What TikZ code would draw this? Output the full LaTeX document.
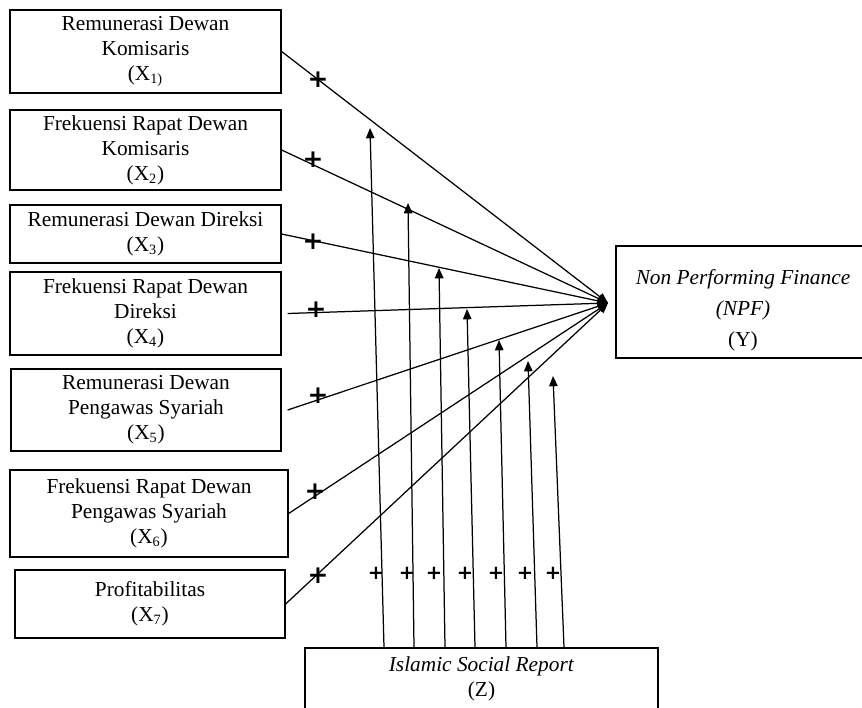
\documentclass[tikz,border=0pt]{standalone}
\usepackage{fontspec}
\setmainfont{Liberation Serif}
\newfontfamily\signfont{DejaVu Sans}
\usetikzlibrary{arrows.meta,positioning,calc}
\newdimen\pxu \pxu=0.5625pt
\tikzset{
  font=\fontsize{12}{14}\selectfont,
  var/.style  ={draw, line width=0.7pt, align=center, inner sep=0pt},
  arr/.style  ={-{Triangle[length=5.8pt,width=4.8pt]}, line width=0.7pt},
  sign/.style ={font=\signfont\fontsize{14}{14}\selectfont\bfseries, inner sep=0pt},
  msign/.style={font=\signfont\fontsize{11}{11}\selectfont\bfseries, inner sep=0pt},
}

\begin{document}
\begin{tikzpicture}[x=0.5625pt, y=-0.5625pt]
  \useasboundingbox (0,0) rectangle (862,707);
  \clip (0,0) rectangle (862,707);

  % independent variables (left column)
  \node[var, minimum width=271*\pxu, minimum height=83*\pxu] (x1) at (145.5,51.5) {Remunerasi Dewan\\Komisaris\\(X\textsubscript{1)}};
  \node[var, minimum width=271*\pxu, minimum height=80*\pxu] (x2) at (145.5,150)  {Frekuensi Rapat Dewan\\Komisaris\\(X\textsubscript{2})};
  \node[var, minimum width=271*\pxu, minimum height=58*\pxu] (x3) at (145.5,234)  {Remunerasi Dewan Direksi\\(X\textsubscript{3})};
  \node[var, minimum width=271*\pxu, minimum height=83*\pxu] (x4) at (145.5,313.5){Frekuensi Rapat Dewan\\Direksi\\(X\textsubscript{4})};
  \node[var, minimum width=270*\pxu, minimum height=82*\pxu] (x5) at (146,410)    {Remunerasi Dewan\\Pengawas Syariah\\(X\textsubscript{5})};
  \node[var, minimum width=278*\pxu, minimum height=87*\pxu] (x6) at (149,513.5)  {Frekuensi Rapat Dewan\\Pengawas Syariah\\(X\textsubscript{6})};
  \node[var, minimum width=270*\pxu, minimum height=68*\pxu] (x7) at (150,604)    {Profitabilitas\\(X\textsubscript{7})};

  % dependent and moderating variables (text of Y sits a bit low in its box)
  \node[var, minimum width=254*\pxu, minimum height=112*\pxu, font=\fontsize{12}{17.5}\selectfont] (y) at (743,302)
       {\mbox{}\\\textit{Non Performing Finance}\\\textit{(NPF)}\\(Y)};
  \node[var, minimum width=353*\pxu, minimum height=62*\pxu] (z) at (481.5,679) {\textit{Islamic Social Report}\\(Z)};

  % direct effects, all meeting in front of Y
  \coordinate (hub) at (608,303);
  \foreach \i/\gap in {1/0,2/0,3/0,4/6,5/6,6/0,7/0}
    \draw[arr] ([xshift=\gap*\pxu]x\i.east) -- (hub);
  \foreach \i/\sx/\sy in {1/318/80,2/313/160,3/313/242,4/316/310,5/318/396,6/315/492,7/318/576}
    \node[sign] (p\i) at (\sx,\sy) {+};

  % moderating effects from Z
  \foreach \i/\dx/\tx/\ty/\sx in {1/-97.5/370/128/376,2/-67.5/408/203/407,3/-36.5/439/268/434,
      4/-6.5/467/309/465,5/24.5/499/340/496,6/55.5/528/361/525,7/82.5/553/376/553}{
    \coordinate (t\i) at (\tx,\ty);
    \draw[arr] ([xshift=\dx*\pxu]z.north) -- (t\i);
    \node[msign] (q\i) at (\sx,573) {+};
  }
\end{tikzpicture}
\end{document}
